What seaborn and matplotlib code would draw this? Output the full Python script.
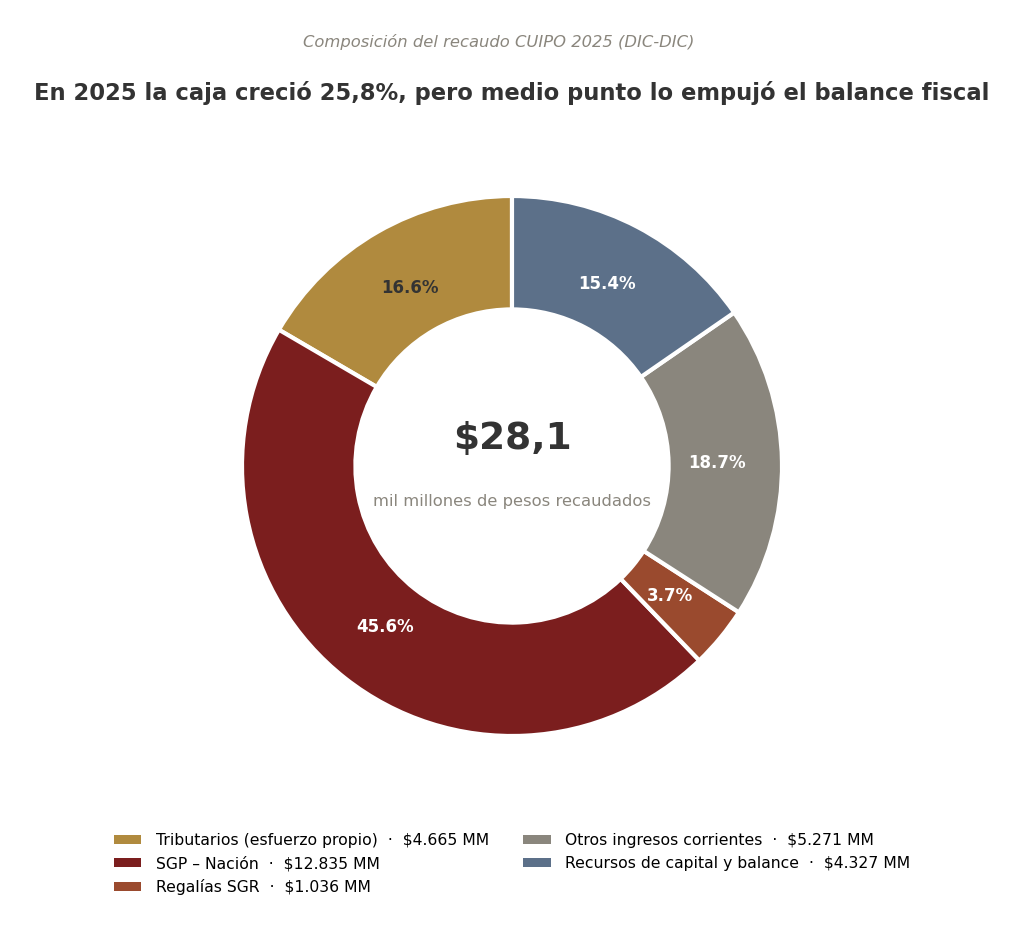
import matplotlib
matplotlib.use("Agg")
import matplotlib.pyplot as plt
from matplotlib.patches import Patch
import seaborn as sns

categorias = ["Tributarios (esfuerzo propio)", "SGP – Nación", "Regalías SGR",
              "Otros ingresos corrientes", "Recursos de capital y balance"]
valores_mm = [4665, 12835, 1036, 5271, 4327]
colores = ["#B08A3E", "#7B1E1E", "#9A4A2E", "#8A867D", "#5C7089"]
color_pct = ["#333333", "white", "white", "white", "white"]

sns.set_theme(style="white")
plt.rcParams["font.family"] = ["DejaVu Sans"]

total = sum(valores_mm)

fig = plt.figure(figsize=(10.24, 9.36), dpi=100)
r = 1.08
ax = fig.add_axes([(512 - 270 * r) / 1024, (936 - 466 - 270 * r) / 936,
                   540 * r / 1024, 540 * r / 936])

wedges, textos, pcts = ax.pie(
    valores_mm, colors=colores, startangle=90, counterclock=True,
    autopct="%.1f%%", pctdistance=0.76,
    wedgeprops=dict(width=0.42, edgecolor="white", linewidth=3),
    textprops=dict(fontsize=12, fontweight="bold"))
for t, c in zip(pcts, color_pct):
    t.set_color(c)
ax.set_xlim(-r, r)
ax.set_ylim(-r, r)
ax.set_aspect("equal")

total_txt = f"${total / 1000:.1f}".replace(".", ",")
ax.text(0, 0.1, total_txt, ha="center", va="center", fontsize=27,
        fontweight="bold", color="#333333")
ax.text(0, -0.13, "mil millones de pesos recaudados", ha="center", va="center",
        fontsize=11.8, color="#8A867D")

fig.text(0.487, 0.955, "Composición del recaudo CUIPO 2025 (DIC-DIC)", ha="center",
         va="center", fontsize=11.8, style="italic", color="#8A867D")
fig.text(0.5, 0.9006, "En 2025 la caja creció 25,8%, pero medio punto lo empujó el balance fiscal",
         ha="center", va="center", fontsize=16.3, fontweight="bold", color="#333333")

etiquetas = [f"{c}  ·  ${v:,} MM".replace(",", ".") for c, v in zip(categorias, valores_mm)]
handles = [Patch(facecolor=c, edgecolor="none") for c in colores]
fig.legend(handles, etiquetas, loc="center", bbox_to_anchor=(0.5, 0.077), ncol=2,
           frameon=False, fontsize=11.25, handlelength=1.75, handleheight=0.5,
           handletextpad=0.95, columnspacing=2.2, labelspacing=0.5,
           labelcolor="black")

fig.savefig("out.png", dpi=100, facecolor="white")
